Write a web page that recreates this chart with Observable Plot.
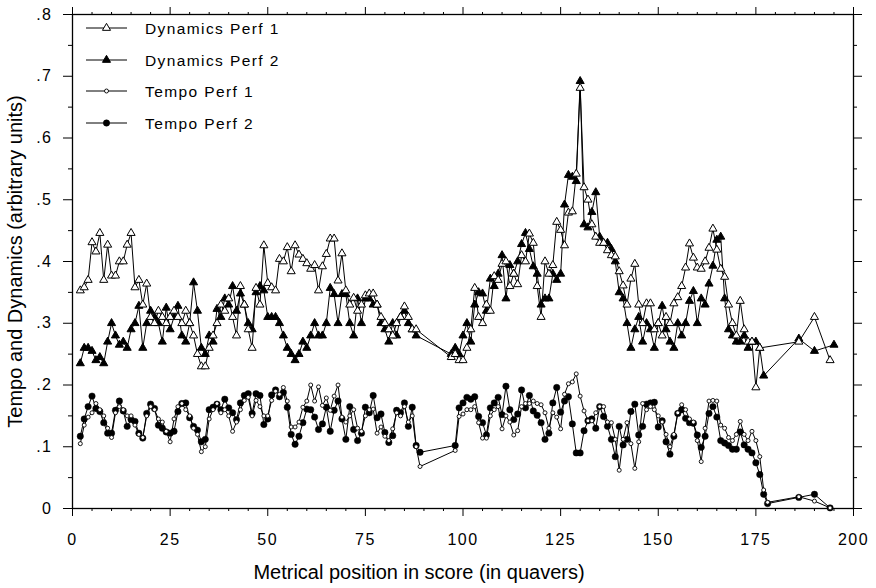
<!DOCTYPE html>
<html>
<head>
<meta charset="utf-8">
<script src="https://cdn.jsdelivr.net/npm/d3@7"></script>
<script src="https://cdn.jsdelivr.net/npm/@observablehq/plot@0.6"></script>
<style>
  html, body { margin: 0; padding: 0; background: white; }
  #chart { width: 876px; height: 588px; }
</style>
</head>
<body>
<div id="chart"></div>
<script>
// ---- Data ----
// Dynamics Perf 1 (open triangles): x = 2..88, then x = 97..176, then tail
const dyn1Start = 2;
const dyn1A = [.353,.358,.37,.431,.416,.446,.37,.427,.377,.377,
  .40,.40,.427,.446,.358,.37,.33,.364,.31,.30,
  .32,.31,.30,.31,.32,.31,.30,.32,.30,.28,
  .25,.23,.23,.26,.28,.30,.33,.32,.34,.31,
  .28,.36,.33,.29,.26,.357,.33,.426,.365,.358,
  .353,.404,.40,.423,.384,.426,.411,.404,.397,.388,
  .394,.353,.392,.412,.437,.437,.369,.413,.353,.33,
  .341,.32,.33,.345,.348,.348,.33,.31,.30,.29,
  .28,.30,.31,.327,.31,.29,.29];
const dyn1BStart = 97;
const dyn1B = [.245,.25,.24,.24,.26,.29,.357,.31,.30,.33,
  .32,.376,.37,.396,.40,.36,.38,.363,.41,.40,
  .445,.43,.36,.31,.40,.38,.394,.464,.451,.426,
  .479,.481,.542,.681,.52,.50,.46,.44,.43,.43,
  .418,.41,.408,.384,.361,.33,.372,.396,.33,.30,
  .332,.332,.29,.30,.28,.31,.30,.332,.342,.36,
  .39,.429,.406,.39,.388,.40,.422,.453,.419,.388,
  .375,.33,.30,.28,.336,.29,.27,.27,.196,.26];
const dyn1TailX = [186, 190, 194];
const dyn1TailY = [.27, .31, .24];

// Dynamics Perf 2 (filled triangles)
const dyn2Start = 2;
const dyn2A = [.235,.26,.26,.255,.24,.245,.235,.27,.30,.28,
  .265,.27,.26,.29,.30,.328,.26,.30,.32,.31,
  .30,.27,.325,.29,.31,.328,.28,.27,.30,.366,
  .32,.26,.25,.28,.27,.323,.31,.34,.33,.36,
  .32,.348,.33,.30,.29,.35,.36,.353,.31,.31,
  .31,.30,.28,.26,.25,.24,.25,.27,.26,.28,
  .30,.28,.28,.30,.357,.347,.30,.347,.347,.30,
  .28,.34,.30,.34,.34,.33,.33,.30,.29,.27,
  .30,.28,.31,.32,.30,.29,.28];
const dyn2BStart = 97;
const dyn2B = [.25,.26,.25,.28,.30,.27,.33,.35,.348,.32,
  .372,.36,.38,.41,.34,.394,.38,.40,.428,.446,
  .42,.392,.38,.33,.34,.34,.38,.37,.38,.492,
  .54,.537,.53,.692,.46,.455,.48,.512,.44,.43,
  .43,.42,.40,.35,.34,.30,.26,.29,.31,.27,
  .30,.29,.26,.30,.328,.29,.27,.26,.30,.28,
  .30,.336,.352,.30,.34,.33,.364,.393,.435,.44,
  .34,.29,.28,.27,.27,.28,.26,.27,.27,.26,
  .215];
const dyn2TailX = [186, 190, 195];
const dyn2TailY = [.275, .255, .265];

// Tempo Perf 1 (open circles)
const tempo1Start = 2;
const tempo1A = [.105,.135,.148,.155,.17,.16,.15,.13,.115,.155,
  .165,.16,.15,.15,.135,.12,.115,.15,.165,.16,
  .145,.14,.125,.108,.145,.165,.17,.16,.15,.13,
  .12,.092,.10,.145,.16,.17,.155,.16,.15,.125,
  .14,.16,.175,.18,.15,.175,.165,.15,.15,.175,
  .19,.185,.196,.174,.132,.132,.14,.164,.174,.20,
  .174,.197,.167,.179,.159,.182,.20,.148,.14,.15,
  .16,.13,.125,.15,.16,.161,.122,.132,.117,.11,
  .129,.155,.15,.165,.14,.15,.10,.068];
const tempo1BStart = 98;
const tempo1B = [.094,.149,.153,.16,.16,.165,.139,.114,.114,.15,
  .16,.165,.129,.15,.14,.119,.126,.165,.17,.17,
  .174,.17,.168,.155,.13,.155,.148,.129,.185,.202,
  .205,.218,.182,.158,.142,.142,.155,.165,.165,.14,
  .139,.112,.062,.112,.139,.105,.065,.108,.17,.16,
  .165,.16,.15,.14,.12,.10,.12,.155,.168,.16,
  .145,.14,.11,.076,.13,.174,.175,.174,.135,.13,
  .115,.11,.12,.141,.12,.11,.125,.11,.084,.03,
  .01];
const tempo1TailX = [186, 190, 194];
const tempo1TailY = [.019, .012, .001];

// Tempo Perf 2 (filled circles)
const tempo2Start = 2;
const tempo2A = [.117,.145,.165,.182,.162,.157,.139,.122,.122,.159,
  .174,.158,.133,.144,.141,.122,.114,.154,.169,.162,
  .135,.13,.124,.122,.125,.157,.17,.171,.147,.133,
  .127,.108,.112,.16,.164,.169,.16,.177,.163,.155,
  .144,.171,.183,.186,.154,.186,.183,.136,.145,.184,
  .192,.181,.188,.164,.12,.104,.117,.139,.161,.16,
  .148,.128,.137,.164,.125,.159,.174,.145,.112,.165,
  .128,.11,.122,.164,.155,.183,.147,.153,.123,.107,
  .118,.159,.155,.171,.133,.164,.102,.091];
const tempo2BStart = 98;
const tempo2B = [.102,.163,.171,.18,.177,.181,.149,.139,.119,.163,
  .171,.18,.152,.198,.16,.144,.153,.192,.163,.183,
  .158,.151,.139,.112,.122,.171,.196,.156,.174,.181,
  .137,.09,.09,.126,.142,.145,.13,.165,.149,.133,
  .112,.084,.133,.103,.112,.157,.169,.119,.133,.169,
  .171,.172,.132,.142,.108,.088,.117,.154,.16,.146,
  .139,.138,.119,.099,.117,.154,.165,.148,.11,.106,
  .102,.096,.096,.124,.103,.096,.09,.074,.055,.023,
  .008];
const tempo2TailX = [186, 190, 194];
const tempo2TailY = [.018, .023, .001];

// Axis ticks and labels
const xTicks = [0, 25, 50, 75, 100, 125, 150, 175, 200];
const xTickLabels = ["0", "25", "50", "75", "100", "125", "150", "175", "200"];
const xMinor = [5,10,15,20,30,35,40,45,55,60,65,70,80,85,90,95,105,110,115,120,130,135,140,145,155,160,165,170,180,185,190,195];
const yTicks = [0, 0.1, 0.2, 0.3, 0.4, 0.5, 0.6, 0.7, 0.8];
const yTickLabels = ["0", ".1", ".2", ".3", ".4", ".5", ".6", ".7", ".8"];
const yMinor = [0.05, 0.15, 0.25, 0.35, 0.45, 0.55, 0.65, 0.75];
const xTitle = "Metrical position in score (in quavers)";
const yTitle = "Tempo and Dynamics (arbitrary units)";
const legendLabels = ["Dynamics Perf 1", "Dynamics Perf 2", "Tempo Perf 1", "Tempo Perf 2"];

// ---- Build series tables ----
function series(startA, a, startB, b, tx, ty) {
  const out = [];
  a.forEach((v, i) => out.push({x: startA + i, y: v}));
  b.forEach((v, i) => out.push({x: startB + i, y: v}));
  tx.forEach((xv, i) => out.push({x: xv, y: ty[i]}));
  return out;
}
const dyn1 = series(dyn1Start, dyn1A, dyn1BStart, dyn1B, dyn1TailX, dyn1TailY);
const dyn2 = series(dyn2Start, dyn2A, dyn2BStart, dyn2B, dyn2TailX, dyn2TailY);
const tempo1 = series(tempo1Start, tempo1A, tempo1BStart, tempo1B, tempo1TailX, tempo1TailY);
const tempo2 = series(tempo2Start, tempo2A, tempo2BStart, tempo2B, tempo2TailX, tempo2TailY);

const none = () => "";
const FONT = "'Liberation Sans', Arial, Helvetica, sans-serif";

const chart = Plot.plot({
  width: 876,
  height: 588,
  marginLeft: 72,
  marginRight: 23,
  marginTop: 14,
  marginBottom: 80,
  x: {domain: [0, 200]},
  y: {domain: [0, 0.8]},
  style: {fontFamily: FONT, fontSize: "16px", color: "black", background: "white", overflow: "visible"},
  marks: [
    Plot.axisX({ticks: xTicks, tickSize: 8, tickPadding: 17, tickFormat: d => xTickLabels[xTicks.indexOf(d)], label: null, fontSize: 16}),
    Plot.axisX({ticks: xMinor, tickSize: 3, tickFormat: none, label: null}),
    Plot.axisX({anchor: "top", ticks: xTicks, tickSize: 8, tickFormat: none, label: null}),
    Plot.axisX({anchor: "top", ticks: xMinor, tickSize: 3, tickFormat: none, label: null}),
    Plot.axisY({ticks: yTicks, tickSize: 9, tickPadding: 11, tickFormat: d => yTickLabels[Math.round(d * 10)], label: null, fontSize: 16}),
    Plot.axisY({ticks: yMinor, tickSize: 4, tickFormat: none, label: null}),
    Plot.axisY({anchor: "right", ticks: yTicks, tickSize: 8, tickFormat: none, label: null}),
    Plot.axisY({anchor: "right", ticks: yMinor, tickSize: 3, tickFormat: none, label: null}),
    Plot.frame({stroke: "black", strokeWidth: 1.3}),
    Plot.line(dyn2, {x: "x", y: "y", stroke: "black", strokeWidth: 1}),
    Plot.line(dyn1, {x: "x", y: "y", stroke: "black", strokeWidth: 1}),
    Plot.line(tempo2, {x: "x", y: "y", stroke: "black", strokeWidth: 1}),
    Plot.line(tempo1, {x: "x", y: "y", stroke: "black", strokeWidth: 1}),
    Plot.dot(dyn2, {x: "x", y: "y", symbol: "triangle", r: 3, fill: "black", stroke: "black", strokeWidth: 1}),
    Plot.dot(dyn1, {x: "x", y: "y", symbol: "triangle", r: 3, fill: "white", stroke: "black", strokeWidth: 1}),
    Plot.dot(tempo2, {x: "x", y: "y", symbol: "circle", r: 3.2, fill: "black", stroke: "black", strokeWidth: 0.5}),
    Plot.dot(tempo1, {x: "x", y: "y", symbol: "circle", r: 2, fill: "white", stroke: "black", strokeWidth: 0.9}),
    Plot.text([xTitle], {text: d => d, frameAnchor: "bottom", dx: -44, dy: 64, fontSize: 20, lineAnchor: "middle", textAnchor: "middle"}),
    Plot.text([yTitle], {text: d => d, frameAnchor: "left", dx: -57, rotate: -90, fontSize: 20, lineAnchor: "middle", textAnchor: "middle"})
  ]
});

document.getElementById("chart").appendChild(chart);

// letter spacing for the tick labels (the reference uses a widely tracked face)
const svg = d3.select(chart);
svg.selectAll("g[aria-label='x-axis tick label'] text, g[aria-label='y-axis tick label'] text")
  .attr("letter-spacing", "1.5");

// ---- Legend (inside the frame, top-left) ----
const legendRowsY = [28, 60, 91, 123];
const leg = svg.append("g").attr("font-family", FONT).attr("font-size", 15.5).attr("text-anchor", "start");
legendLabels.forEach((lab, i) => {
  const y = legendRowsY[i];
  const g = leg.append("g").attr("transform", `translate(86,${y})`);
  g.append("line").attr("x1", 0).attr("x2", 41).attr("y1", 0).attr("y2", 0)
    .attr("stroke", "black").attr("stroke-width", 1);
  if (i < 2) {
    g.append("path").attr("transform", "translate(20.5,0)")
      .attr("d", d3.symbol(d3.symbolTriangle, Math.PI * 9)())
      .attr("fill", i === 0 ? "white" : "black").attr("stroke", "black").attr("stroke-width", 1);
  } else {
    g.append("circle").attr("cx", 20.5).attr("cy", 0).attr("r", i === 2 ? 2 : 3.2)
      .attr("fill", i === 2 ? "white" : "black").attr("stroke", "black").attr("stroke-width", i === 2 ? 0.9 : 0.5);
  }
  g.append("text").attr("x", 59).attr("y", 2).attr("dominant-baseline", "middle")
    .attr("text-anchor", "start")
    .attr("letter-spacing", "1.4").attr("fill", "black").text(lab);
});
</script>
</body>
</html>
